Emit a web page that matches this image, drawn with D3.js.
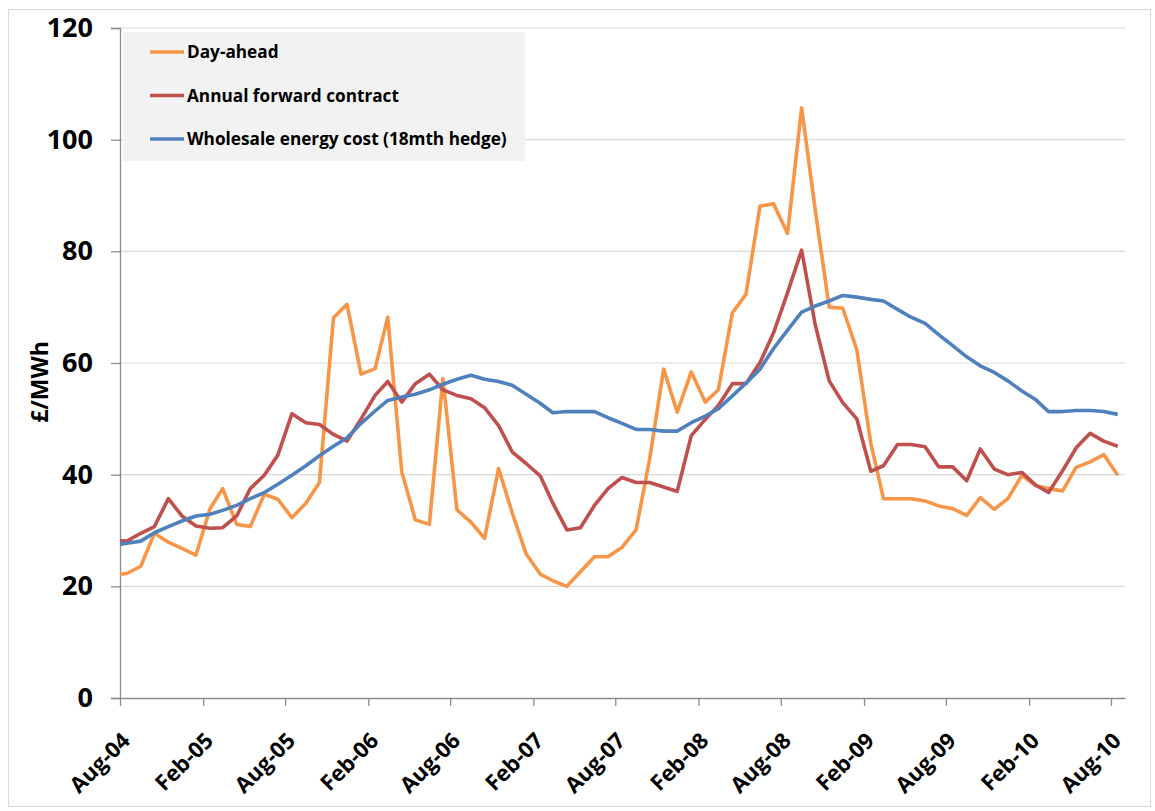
<!DOCTYPE html>
<html>
<head>
<meta charset="utf-8">
<script src="https://d3js.org/d3.v7.min.js"></script>
<style>
  body { margin: 0; background: #fff; }
  text { font-family: "Open Sans", sans-serif; font-weight: bold; fill: #000; }
</style>
</head>
<body>
<svg id="chart" width="1155" height="811"></svg>
<script>
// monthly series, Jul-04 .. Aug-10 (the Jul-04 point sits left of the axis and is clipped)
var months = ["Jul-04","Aug-04","Sep-04","Oct-04","Nov-04","Dec-04",
  "Jan-05","Feb-05","Mar-05","Apr-05","May-05","Jun-05","Jul-05","Aug-05","Sep-05","Oct-05","Nov-05","Dec-05",
  "Jan-06","Feb-06","Mar-06","Apr-06","May-06","Jun-06","Jul-06","Aug-06","Sep-06","Oct-06","Nov-06","Dec-06",
  "Jan-07","Feb-07","Mar-07","Apr-07","May-07","Jun-07","Jul-07","Aug-07","Sep-07","Oct-07","Nov-07","Dec-07",
  "Jan-08","Feb-08","Mar-08","Apr-08","May-08","Jun-08","Jul-08","Aug-08","Sep-08","Oct-08","Nov-08","Dec-08",
  "Jan-09","Feb-09","Mar-09","Apr-09","May-09","Jun-09","Jul-09","Aug-09","Sep-09","Oct-09","Nov-09","Dec-09",
  "Jan-10","Feb-10","Mar-10","Apr-10","May-10","Jun-10","Jul-10","Aug-10"];

var dayAhead = [22.0,22.3,23.6,29.5,27.9,26.8,
  25.6,33.9,37.5,31.1,30.7,36.5,35.6,32.3,34.9,38.6,68.1,70.5,
  58.0,59.0,68.2,40.5,31.9,31.1,57.2,33.7,31.5,28.6,41.1,33.2,
  25.8,22.2,21.0,20.0,22.6,25.3,25.3,27.0,30.1,42.8,58.9,51.2,
  58.4,53.0,55.2,69.0,72.3,88.1,88.5,83.2,105.7,87.5,70.0,69.8,
  62.4,45.6,35.7,35.7,35.7,35.3,34.4,33.9,32.7,35.9,33.8,35.7,
  39.9,38.0,37.5,37.1,41.3,42.3,43.6,39.9];

var forward = [28.2,28.1,29.5,30.7,35.7,32.6,
  30.8,30.4,30.5,32.6,37.5,39.9,43.5,50.9,49.3,49.0,47.2,46.0,
  50.0,54.2,56.7,53.0,56.3,58.0,55.2,54.2,53.6,52.0,48.8,44.1,
  42.0,39.8,34.9,30.1,30.5,34.5,37.5,39.5,38.6,38.6,37.8,37.0,
  47.0,49.9,52.4,56.3,56.3,60.1,65.4,72.6,80.2,66.9,56.8,52.9,
  50.0,40.6,41.6,45.4,45.4,45.0,41.4,41.4,38.9,44.6,41.0,40.0,
  40.4,38.1,36.8,40.7,44.8,47.4,46.0,45.1];

var wholesale = [27.3,27.7,28.1,29.6,30.7,31.7,
  32.6,32.9,33.6,34.5,35.7,36.8,38.3,39.9,41.6,43.4,45.1,46.6,
  49.2,51.4,53.3,53.9,54.4,55.2,56.2,57.1,57.8,57.1,56.7,56.0,
  54.4,52.8,51.1,51.3,51.3,51.3,50.2,49.2,48.1,48.1,47.8,47.8,
  49.3,50.5,51.8,54.1,56.4,58.9,62.6,65.9,69.1,70.2,71.1,72.1,
  71.8,71.4,71.1,69.6,68.2,67.1,65.1,63.1,61.1,59.5,58.3,56.8,
  55.0,53.4,51.3,51.3,51.5,51.5,51.3,50.8];

var tickLabels = ["Aug-04","Feb-05","Aug-05","Feb-06","Aug-06","Feb-07","Aug-07",
  "Feb-08","Aug-08","Feb-09","Aug-09","Feb-10","Aug-10"];
var yTicks = [0, 20, 40, 60, 80, 100, 120];

var seriesNames = ["Day-ahead", "Annual forward contract", "Wholesale energy cost (18mth hedge)"];
var seriesColors = ["#F79646", "#C0504D", "#4F81BD"];

var parseMonth = d3.timeParse("%b-%y");

var svg = d3.select("#chart");

// outer chart border
svg.append("rect")
    .attr("x", 8.5).attr("y", 9.5)
    .attr("width", 1142).attr("height", 797)
    .attr("fill", "none")
    .attr("stroke", "#d9d9d9");

var plotLeft = 120, plotRight = 1125, plotTop = 28, plotBottom = 698;

var x = d3.scaleTime()
    .domain([parseMonth("Aug-04"), parseMonth("Sep-10")])
    .range([plotLeft, plotRight]);

var y = d3.scaleLinear()
    .domain([0, 120])
    .range([plotBottom, plotTop]);

// gridlines
svg.append("g")
    .selectAll("line")
    .data(yTicks.filter(function (d) { return d > 0; }))
    .join("line")
    .attr("x1", plotLeft).attr("x2", plotRight)
    .attr("y1", function (d) { return y(d); })
    .attr("y2", function (d) { return y(d); })
    .attr("stroke", "#d9d9d9")
    .attr("stroke-width", 1.2);

// y axis
var yAxis = svg.append("g")
    .attr("transform", "translate(" + plotLeft + ",0)")
    .call(d3.axisLeft(y).tickValues(yTicks).tickSize(9).tickPadding(18));
yAxis.select(".domain").attr("stroke", "#8c8c8c").attr("stroke-width", 1.3);
yAxis.selectAll(".tick line").attr("stroke", "#8c8c8c").attr("stroke-width", 1.3);
yAxis.selectAll(".tick text")
    .attr("font-size", 27)
    .attr("font-family", "'Open Sans', sans-serif")
    .attr("font-weight", "bold")
    .attr("fill", "#000");

// x axis
var xAxis = svg.append("g")
    .attr("transform", "translate(0," + plotBottom + ")")
    .call(d3.axisBottom(x)
        .tickValues(tickLabels.map(parseMonth))
        .tickFormat(d3.timeFormat("%b-%y"))
        .tickSizeInner(8)
        .tickSizeOuter(0));
xAxis.select(".domain").attr("stroke", "#8c8c8c").attr("stroke-width", 1.3);
xAxis.selectAll(".tick line").attr("stroke", "#8c8c8c").attr("stroke-width", 1.3);
xAxis.selectAll(".tick text")
    .attr("font-size", 22)
    .attr("font-family", "'Open Sans', sans-serif")
    .attr("font-weight", "bold")
    .attr("fill", "#000")
    .attr("text-anchor", "end")
    .attr("dy", 0)
    .attr("y", 0)
    .attr("transform", "translate(11,44) rotate(-45)");

// axis title
svg.append("text")
    .attr("transform", "translate(48,382) rotate(-90)")
    .attr("text-anchor", "middle")
    .attr("font-size", 23)
    .text("£/MWh");

// lines, clipped to the plot area
svg.append("clipPath")
    .attr("id", "plotclip")
    .append("rect")
    .attr("x", plotLeft).attr("y", 0)
    .attr("width", plotRight - plotLeft).attr("height", plotBottom + 5);

var dates = months.map(function (m) { return d3.timeDay.offset(parseMonth(m), 15); });

var line = d3.line()
    .x(function (d, i) { return x(dates[i]); })
    .y(function (d) { return y(d); });

var plot = svg.append("g").attr("clip-path", "url(#plotclip)");
[dayAhead, forward, wholesale].forEach(function (vals, si) {
    plot.append("path")
        .datum(vals)
        .attr("d", line)
        .attr("fill", "none")
        .attr("stroke", seriesColors[si])
        .attr("stroke-width", 3.6)
        .attr("stroke-linejoin", "round");
});

// legend
var legend = svg.append("g");
legend.append("rect")
    .attr("x", 123).attr("y", 32)
    .attr("width", 402).attr("height", 129)
    .attr("fill", "#f2f2f2");

var rows = legend.selectAll("g.row")
    .data(seriesNames)
    .join("g")
    .attr("class", "row")
    .attr("transform", function (d, i) { return "translate(0," + (52 + i * 43.5) + ")"; });

rows.append("line")
    .attr("x1", 150).attr("x2", 184)
    .attr("y1", 0).attr("y2", 0)
    .attr("stroke", function (d, i) { return seriesColors[i]; })
    .attr("stroke-width", 3.6);

rows.append("text")
    .attr("x", 187)
    .attr("dy", "0.35em")
    .attr("font-size", 17.2)
    .text(function (d) { return d; });
</script>
</body>
</html>
